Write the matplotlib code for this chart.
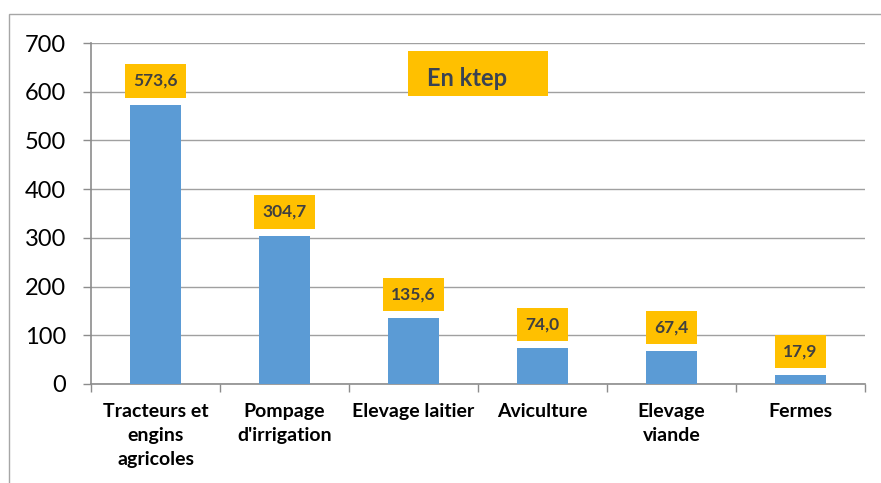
import numpy as np
import matplotlib.pyplot as plt
from matplotlib.patches import Rectangle

categories = ["Tracteurs et\nengins\nagricoles", "Pompage\nd'irrigation", "Elevage laitier",
              "Aviculture", "Elevage\nviande", "Fermes"]
values = [573.6, 304.7, 135.6, 74.0, 67.4, 17.9]
labels = ["573,6", "304,7", "135,6", "74,0", "67,4", "17,9"]
yticks = [0, 100, 200, 300, 400, 500, 600, 700]

plt.rcParams['font.family'] = ['Lato', 'DejaVu Sans']

fig = plt.figure(figsize=(8.81, 4.83), dpi=100)
fig.patches.append(Rectangle((9 / 881, -0.1), 1.2, 1 - 14 / 483 + 0.1, transform=fig.transFigure,
                             fill=False, edgecolor='#a6a6a6', linewidth=1))
ax = fig.add_axes([91 / 881, 1 - 384 / 483, (865 - 91) / 881, (384 - 43) / 483])

x = np.arange(len(values))
ax.bar(x, values, width=0.4, color='#5b9bd5', zorder=3)

ax.set_xlim(-0.5, len(values) - 0.5)
ax.set_ylim(0, 700)
ax.set_yticks(yticks)
ax.set_yticklabels([str(t) for t in yticks], fontsize=17, color='#000000')
ax.yaxis.grid(True, color='#a0a0a0', linewidth=1, zorder=0)

ax.set_xticks(x)
ax.set_xticklabels(categories, fontsize=14, fontweight='bold', linespacing=1.5)
ax.set_xticks(np.arange(len(values) + 1) - 0.5, minor=True)
ax.tick_params(axis='x', which='major', length=0, pad=14)
ax.tick_params(axis='x', which='minor', length=6, color='#8c8c8c', width=1)
ax.tick_params(axis='y', length=6, color='#8c8c8c', width=1, pad=12)

for s in ['top', 'right']:
    ax.spines[s].set_visible(False)
for s in ['left', 'bottom']:
    ax.spines[s].set_color('#8c8c8c')
    ax.spines[s].set_linewidth(1.2)

for xi, v, lab in zip(x, values, labels):
    ax.annotate(lab, (xi, v), xytext=(0, 17), textcoords='offset points',
                ha='center', va='center', fontsize=12.5, fontweight='bold', color='#404040',
                bbox=dict(boxstyle='square,pad=0.5', facecolor='#ffc000', edgecolor='none'),
                zorder=4)

fig.patches.append(Rectangle((408 / 881, 1 - 96 / 483), 140 / 881, 45 / 483, transform=fig.transFigure,
                             facecolor='#ffc000', edgecolor='none', zorder=5))
fig.text(427 / 881, 1 - 78 / 483, "En ktep", fontsize=17, fontweight='bold', color='#3a4352',
         ha='left', va='center', zorder=6)

fig.savefig("out.png", dpi=100)
